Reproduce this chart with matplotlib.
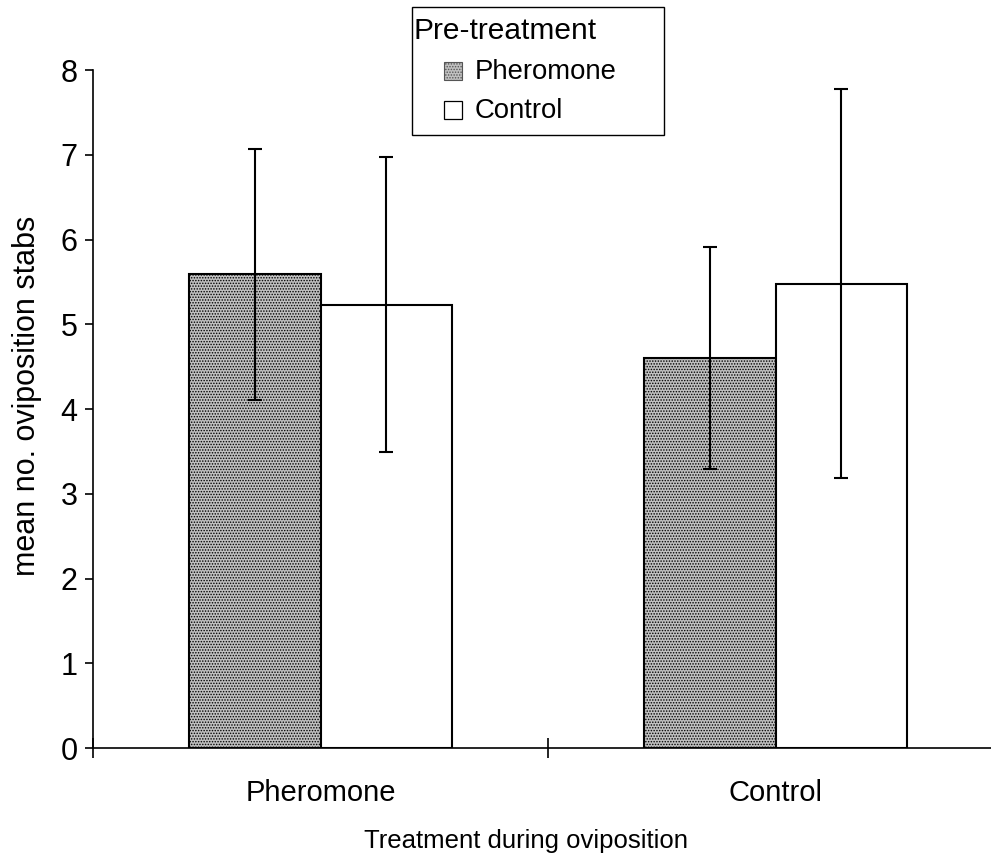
import numpy as np
import matplotlib
matplotlib.use('Agg')
import matplotlib.pyplot as plt
from matplotlib.patches import Rectangle
from matplotlib.legend_handler import HandlerPatch

plt.rcParams['font.family'] = ['Liberation Sans', 'DejaVu Sans']
plt.rcParams['hatch.color'] = '#444444'
plt.rcParams['hatch.linewidth'] = 0.7

# data
groups = ['Pheromone', 'Control']
pre_labels = ['Pheromone', 'Control']
mean_pher = [5.59, 4.60]
err_pher = [1.48, 1.31]
mean_ctrl = [5.23, 5.48]
err_ctrl = [1.74, 2.29]

fig = plt.figure(figsize=(9.91, 8.56), dpi=100)
ax = fig.add_axes([93 / 991, 108 / 856, 910 / 991, 678 / 856])

x = np.array([0.5, 1.5])
w = 0.288
shade = '#c0c0c0'

ax.bar(x - w / 2, mean_pher, w, facecolor=shade, edgecolor='black',
       linewidth=1.5, hatch='......', zorder=2)
ax.bar(x + w / 2, mean_ctrl, w, facecolor='white', edgecolor='black',
       linewidth=1.5, zorder=2)
ax.errorbar(x - w / 2, mean_pher, yerr=err_pher, fmt='none', ecolor='black',
            elinewidth=1.5, capsize=5, capthick=1.5, zorder=3)
ax.errorbar(x + w / 2, mean_ctrl, yerr=err_ctrl, fmt='none', ecolor='black',
            elinewidth=1.5, capsize=5, capthick=1.5, zorder=3)

ax.set_xlim(0, 2)
ax.set_ylim(0, 8)
ax.spines['top'].set_visible(False)
ax.spines['right'].set_visible(False)
ax.spines['left'].set_linewidth(1.2)
ax.spines['bottom'].set_linewidth(1.2)

ax.set_yticks(range(0, 9))
ax.tick_params(axis='y', direction='out', length=6, width=1.2, labelsize=22, pad=5)
ax.set_xticks([0, 1, 2])
ax.set_xticklabels([])
ax.set_xticks(x, minor=True)
ax.set_xticklabels(groups, minor=True)
ax.tick_params(axis='x', which='major', direction='inout', length=14, width=1.2)
ax.tick_params(axis='x', which='minor', length=0, labelsize=21, pad=22)

ax.set_xlabel('Treatment during oviposition', fontsize=18.5)
ax.xaxis.set_label_coords(0.476, -0.12)
ax.set_ylabel('mean no. oviposition stabs', fontsize=22)
ax.yaxis.set_label_coords(-0.056, 0.52)


def indented_square(legend, orig_handle, xdescent, ydescent, width, height, fontsize):
    s = 18 * 72 / fig.dpi
    return Rectangle((-xdescent + width - s, -ydescent + (height - s) / 2 - 1), s, s)


h1 = Rectangle((0, 0), 1, 1, facecolor=shade, edgecolor='#555555',
               hatch='......', linewidth=0.8)
h2 = Rectangle((0, 0), 1, 1, facecolor='white', edgecolor='black', linewidth=0.9)
leg = ax.legend([h1, h2], pre_labels, title='Pre-treatment', fontsize=19.8,
                title_fontsize=21.5, loc='upper left',
                bbox_to_anchor=(414 / 991, 1 - 17 / 856),
                bbox_transform=fig.transFigure, frameon=False,
                borderpad=0.0, labelspacing=0.5, handlelength=1.75,
                handletextpad=0.45, borderaxespad=0,
                handler_map={Rectangle: HandlerPatch(patch_func=indented_square)})
leg._legend_box.align = 'left'

# legend frame drawn separately: it is wider than its entries
fig.patches.append(Rectangle((412 / 991, 1 - 135 / 856), 252 / 991, 128 / 856,
                             transform=fig.transFigure, facecolor='none',
                             edgecolor='black', linewidth=1.0))

fig.savefig('out.png', dpi=100)
